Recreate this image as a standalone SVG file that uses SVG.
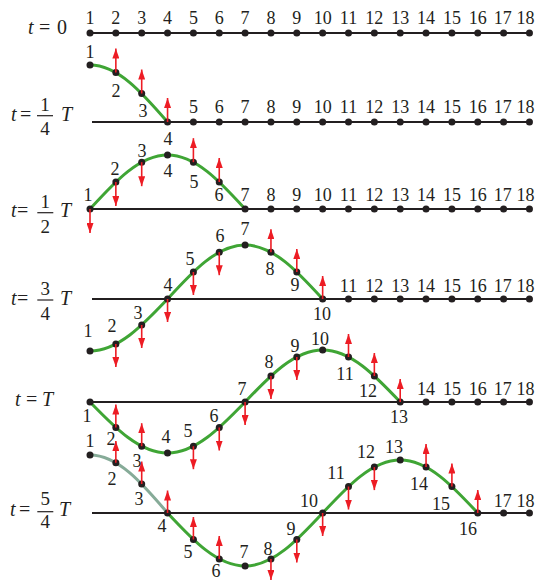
<svg xmlns="http://www.w3.org/2000/svg" width="536" height="581" viewBox="0 0 536 581" font-family="'Liberation Serif', serif">
<defs>
<style>
.axis{stroke:#231f20;stroke-width:1.8;fill:none}
.dot{fill:#231f20}
.wave{fill:none;stroke:#3fa535;stroke-width:3;stroke-linecap:round}
.wavef{fill:none;stroke:#86ab98;stroke-width:3;stroke-linecap:round}
.arr{stroke:#ed1c24;stroke-width:1.6;marker-end:url(#ah)}
.bar{stroke:#231f20;stroke-width:1.2}
text{font-family:'Liberation Serif',serif;fill:#231f20}
.n{font-size:18px;text-anchor:middle}
.lb{font-size:20px}
.fr{font-size:19px;text-anchor:middle}
.it{font-style:italic}
</style>
<marker id="ah" viewBox="0 0 10 7" refX="10" refY="3.5" markerWidth="10" markerHeight="7" orient="auto" markerUnits="userSpaceOnUse">
<path d="M0,0 L10,3.5 L0,7 z" fill="#ed1c24"/>
</marker>
</defs>

<!-- Row t = 0 -->
<g id="row-t0">
<text class="lb" x="28" y="34"><tspan class="it">t</tspan></text>
<text class="lb" x="39" y="34">=</text>
<text class="lb" x="57" y="34">0</text>
<line class="axis" x1="90" y1="33" x2="529.45" y2="33"/>
<g id="t0-nodes">
<circle class="dot" cx="90" cy="33" r="3.5"/><circle class="dot" cx="115.85" cy="33" r="3.5"/><circle class="dot" cx="141.7" cy="33" r="3.5"/><circle class="dot" cx="167.55" cy="33" r="3.5"/><circle class="dot" cx="193.4" cy="33" r="3.5"/><circle class="dot" cx="219.25" cy="33" r="3.5"/><circle class="dot" cx="245.1" cy="33" r="3.5"/><circle class="dot" cx="270.95" cy="33" r="3.5"/><circle class="dot" cx="296.8" cy="33" r="3.5"/><circle class="dot" cx="322.65" cy="33" r="3.5"/><circle class="dot" cx="348.5" cy="33" r="3.5"/><circle class="dot" cx="374.35" cy="33" r="3.5"/><circle class="dot" cx="400.2" cy="33" r="3.5"/><circle class="dot" cx="426.05" cy="33" r="3.5"/><circle class="dot" cx="451.9" cy="33" r="3.5"/><circle class="dot" cx="477.75" cy="33" r="3.5"/><circle class="dot" cx="503.6" cy="33" r="3.5"/><circle class="dot" cx="529.45" cy="33" r="3.5"/>
</g>
<g class="labels">
<text class="n" x="90" y="24">1</text><text class="n" x="115.85" y="24">2</text><text class="n" x="141.7" y="24">3</text><text class="n" x="167.55" y="24">4</text><text class="n" x="193.4" y="24">5</text><text class="n" x="219.25" y="24">6</text><text class="n" x="245.1" y="24">7</text><text class="n" x="270.95" y="24">8</text><text class="n" x="296.8" y="24">9</text><text class="n" x="322.65" y="24">10</text><text class="n" x="348.5" y="24">11</text><text class="n" x="374.35" y="24">12</text><text class="n" x="400.2" y="24">13</text><text class="n" x="426.05" y="24">14</text><text class="n" x="451.9" y="24">15</text><text class="n" x="477.75" y="24">16</text><text class="n" x="502.8" y="24">17</text><text class="n" x="525.5" y="24">18</text>
</g>
</g>

<!-- Row t = 1/4 T -->
<g id="row-t1">
<text class="lb" x="11" y="121"><tspan class="it">t</tspan></text>
<text class="lb" x="20" y="121">=</text>
<line class="bar" x1="37" y1="115.7" x2="53" y2="115.7"/>
<text class="fr" x="45" y="110.7">1</text>
<text class="fr" x="45" y="135">4</text>
<text class="lb it" x="61" y="121">T</text>
<line class="axis" x1="92" y1="122" x2="529.45" y2="122"/>
<path class="wave" d="M90,65 C118.07,65 142.26,92.8 167.55,122"/>
<g id="t1-nodes">
<circle class="dot" cx="90" cy="65" r="3.5"/><circle class="dot" cx="115.85" cy="72.6" r="3.5"/><circle class="dot" cx="141.7" cy="93.5" r="3.5"/><circle class="dot" cx="167.55" cy="122" r="3.5"/><circle class="dot" cx="193.4" cy="122" r="3.5"/><circle class="dot" cx="219.25" cy="122" r="3.5"/><circle class="dot" cx="245.1" cy="122" r="3.5"/><circle class="dot" cx="270.95" cy="122" r="3.5"/><circle class="dot" cx="296.8" cy="122" r="3.5"/><circle class="dot" cx="322.65" cy="122" r="3.5"/><circle class="dot" cx="348.5" cy="122" r="3.5"/><circle class="dot" cx="374.35" cy="122" r="3.5"/><circle class="dot" cx="400.2" cy="122" r="3.5"/><circle class="dot" cx="426.05" cy="122" r="3.5"/><circle class="dot" cx="451.9" cy="122" r="3.5"/><circle class="dot" cx="477.75" cy="122" r="3.5"/><circle class="dot" cx="503.6" cy="122" r="3.5"/><circle class="dot" cx="529.45" cy="122" r="3.5"/>
</g>
<g class="labels">
<text class="n" x="90" y="58">1</text><text class="n" x="116" y="97">2</text><text class="n" x="143" y="117">3</text><text class="n" x="168" y="145">4</text><text class="n" x="193.4" y="113">5</text><text class="n" x="219.25" y="113">6</text><text class="n" x="245.1" y="113">7</text><text class="n" x="270.95" y="113">8</text><text class="n" x="296.8" y="113">9</text><text class="n" x="322.65" y="113">10</text><text class="n" x="348.5" y="113">11</text><text class="n" x="374.35" y="113">12</text><text class="n" x="400.2" y="113">13</text><text class="n" x="426.05" y="113">14</text><text class="n" x="451.9" y="113">15</text><text class="n" x="477.75" y="113">16</text><text class="n" x="502.8" y="113">17</text><text class="n" x="525.5" y="113">18</text>
</g>
</g>

<!-- Row t = 1/2 T -->
<g id="row-t2">
<text class="lb" x="11" y="217"><tspan class="it">t</tspan></text>
<text class="lb" x="17" y="217">=</text>
<line class="bar" x1="37.3" y1="212.7" x2="53.3" y2="212.7"/>
<text class="fr" x="45.3" y="208.3">1</text>
<text class="fr" x="45.3" y="232.7">2</text>
<text class="lb it" x="60" y="217">T</text>
<line class="axis" x1="90" y1="209" x2="529.45" y2="209"/>
<path class="wave" d="M90,209 C115.29,181.34 139.48,155 167.55,155 C195.62,155 219.81,181.34 245.1,209"/>
<g id="t2-nodes">
<circle class="dot" cx="90" cy="209" r="3.5"/><circle class="dot" cx="115.85" cy="182" r="3.5"/><circle class="dot" cx="141.7" cy="162.2" r="3.5"/><circle class="dot" cx="167.55" cy="155" r="3.5"/><circle class="dot" cx="193.4" cy="162.2" r="3.5"/><circle class="dot" cx="219.25" cy="182" r="3.5"/><circle class="dot" cx="245.1" cy="209" r="3.5"/><circle class="dot" cx="270.95" cy="209" r="3.5"/><circle class="dot" cx="296.8" cy="209" r="3.5"/><circle class="dot" cx="322.65" cy="209" r="3.5"/><circle class="dot" cx="348.5" cy="209" r="3.5"/><circle class="dot" cx="374.35" cy="209" r="3.5"/><circle class="dot" cx="400.2" cy="209" r="3.5"/><circle class="dot" cx="426.05" cy="209" r="3.5"/><circle class="dot" cx="451.9" cy="209" r="3.5"/><circle class="dot" cx="477.75" cy="209" r="3.5"/><circle class="dot" cx="503.6" cy="209" r="3.5"/><circle class="dot" cx="529.45" cy="209" r="3.5"/>
</g>
<g class="labels">
<text class="n" x="88" y="201">1</text><text class="n" x="115" y="175">2</text><text class="n" x="142" y="157">3</text><text class="n" x="168" y="177">4</text><text class="n" x="194" y="188">5</text><text class="n" x="219" y="201">6</text><text class="n" x="245.1" y="201">7</text><text class="n" x="270.95" y="201">8</text><text class="n" x="296.8" y="201">9</text><text class="n" x="322.65" y="201">10</text><text class="n" x="348.5" y="201">11</text><text class="n" x="374.35" y="201">12</text><text class="n" x="400.2" y="201">13</text><text class="n" x="426.05" y="201">14</text><text class="n" x="451.9" y="201">15</text><text class="n" x="477.75" y="201">16</text><text class="n" x="502.8" y="201">17</text><text class="n" x="525.5" y="201">18</text>
</g>
</g>

<!-- Row t = 3/4 T -->
<g id="row-t3">
<text class="lb" x="11" y="305"><tspan class="it">t</tspan></text>
<text class="lb" x="17" y="305">=</text>
<line class="bar" x1="37.3" y1="300" x2="53.3" y2="300"/>
<text class="fr" x="45.3" y="295">3</text>
<text class="fr" x="45.3" y="319.5">4</text>
<text class="lb it" x="60" y="305">T</text>
<line class="axis" x1="92" y1="299" x2="529.45" y2="299"/>
<path class="wave" d="M90,351 C118.07,351 142.26,325.64 167.55,299 C192.84,271.34 217.03,245 245.1,245 C273.17,245 297.36,271.34 322.65,299"/>
<g id="t3-nodes">
<circle class="dot" cx="90" cy="351" r="3.5"/><circle class="dot" cx="115.85" cy="344" r="3.5"/><circle class="dot" cx="141.7" cy="325" r="3.5"/><circle class="dot" cx="167.55" cy="299" r="3.5"/><circle class="dot" cx="193.4" cy="272" r="3.5"/><circle class="dot" cx="219.25" cy="252.2" r="3.5"/><circle class="dot" cx="245.1" cy="245" r="3.5"/><circle class="dot" cx="270.95" cy="252.2" r="3.5"/><circle class="dot" cx="296.8" cy="272" r="3.5"/><circle class="dot" cx="322.65" cy="299" r="3.5"/><circle class="dot" cx="348.5" cy="299" r="3.5"/><circle class="dot" cx="374.35" cy="299" r="3.5"/><circle class="dot" cx="400.2" cy="299" r="3.5"/><circle class="dot" cx="426.05" cy="299" r="3.5"/><circle class="dot" cx="451.9" cy="299" r="3.5"/><circle class="dot" cx="477.75" cy="299" r="3.5"/><circle class="dot" cx="503.6" cy="299" r="3.5"/><circle class="dot" cx="529.45" cy="299" r="3.5"/>
</g>
<g class="labels">
<text class="n" x="88" y="337">1</text><text class="n" x="112" y="332">2</text><text class="n" x="138" y="319">3</text><text class="n" x="168" y="291">4</text><text class="n" x="190" y="265">5</text><text class="n" x="220" y="242">6</text><text class="n" x="245" y="235">7</text><text class="n" x="270" y="275">8</text><text class="n" x="295" y="291">9</text><text class="n" x="322" y="320">10</text><text class="n" x="348.5" y="292">11</text><text class="n" x="374.35" y="292">12</text><text class="n" x="400.2" y="292">13</text><text class="n" x="426.05" y="292">14</text><text class="n" x="451.9" y="292">15</text><text class="n" x="477.75" y="292">16</text><text class="n" x="502.8" y="292">17</text><text class="n" x="525.5" y="292">18</text>
</g>
</g>

<!-- Row t = T -->
<g id="row-t4">
<text class="lb" x="15" y="406"><tspan class="it">t</tspan></text>
<text class="lb" x="26" y="406">=</text>
<text class="lb it" x="42" y="406">T</text>
<line class="axis" x1="90" y1="402" x2="529.45" y2="402"/>
<path class="wave" d="M90,402 C115.29,428.13 139.48,453 167.55,453 C195.62,453 219.81,428.13 245.1,402 C270.39,375.36 294.58,350 322.65,350 C350.72,350 374.91,375.36 400.2,402"/>
<g id="t4-nodes">
<circle class="dot" cx="90" cy="402" r="3.5"/><circle class="dot" cx="115.85" cy="427.5" r="3.5"/><circle class="dot" cx="141.7" cy="446.2" r="3.5"/><circle class="dot" cx="167.55" cy="453" r="3.5"/><circle class="dot" cx="193.4" cy="446.2" r="3.5"/><circle class="dot" cx="219.25" cy="427.5" r="3.5"/><circle class="dot" cx="245.1" cy="402" r="3.5"/><circle class="dot" cx="270.95" cy="376" r="3.5"/><circle class="dot" cx="296.8" cy="357" r="3.5"/><circle class="dot" cx="322.65" cy="350" r="3.5"/><circle class="dot" cx="348.5" cy="357" r="3.5"/><circle class="dot" cx="374.35" cy="376" r="3.5"/><circle class="dot" cx="400.2" cy="402" r="3.5"/><circle class="dot" cx="426.05" cy="402" r="3.5"/><circle class="dot" cx="451.9" cy="402" r="3.5"/><circle class="dot" cx="477.75" cy="402" r="3.5"/><circle class="dot" cx="503.6" cy="402" r="3.5"/><circle class="dot" cx="529.45" cy="402" r="3.5"/>
</g>
<g class="labels">
<text class="n" x="87" y="422">1</text><text class="n" x="111" y="445">2</text><text class="n" x="137" y="467">3</text><text class="n" x="166" y="443">4</text><text class="n" x="188" y="437">5</text><text class="n" x="214" y="422">6</text><text class="n" x="242" y="395">7</text><text class="n" x="269" y="368">8</text><text class="n" x="295" y="352">9</text><text class="n" x="320" y="345">10</text><text class="n" x="345" y="380">11</text><text class="n" x="368" y="397">12</text><text class="n" x="399" y="423">13</text><text class="n" x="426.05" y="395">14</text><text class="n" x="451.9" y="395">15</text><text class="n" x="477.75" y="395">16</text><text class="n" x="502.8" y="395">17</text><text class="n" x="525.5" y="395">18</text>
</g>
</g>

<!-- Row t = 5/4 T -->
<g id="row-t5">
<text class="lb" x="10" y="516"><tspan class="it">t</tspan></text>
<text class="lb" x="19" y="516">=</text>
<line class="bar" x1="37.3" y1="511.7" x2="53.3" y2="511.7"/>
<text class="fr" x="45.3" y="505">5</text>
<text class="fr" x="45.3" y="528.3">4</text>
<text class="lb it" x="59" y="516">T</text>
<line class="axis" x1="92" y1="513" x2="529.45" y2="513"/>
<path class="wavef" d="M90,455 C118.07,455 142.26,483.3 167.55,513"/>
<path class="wave" d="M167.55,513 C192.84,540.15 217.03,566 245.1,566 C273.17,566 297.36,540.15 322.65,513 C347.94,485.85 372.13,460 400.2,460 C428.27,460 452.46,485.85 477.75,513"/>
<g id="t5-nodes">
<circle class="dot" cx="90" cy="455" r="3.5"/><circle class="dot" cx="115.85" cy="462.8" r="3.5"/><circle class="dot" cx="141.7" cy="484" r="3.5"/><circle class="dot" cx="167.55" cy="513" r="3.5"/><circle class="dot" cx="193.4" cy="539.5" r="3.5"/><circle class="dot" cx="219.25" cy="558.9" r="3.5"/><circle class="dot" cx="245.1" cy="566" r="3.5"/><circle class="dot" cx="270.95" cy="558.9" r="3.5"/><circle class="dot" cx="296.8" cy="539.5" r="3.5"/><circle class="dot" cx="322.65" cy="513" r="3.5"/><circle class="dot" cx="348.5" cy="486.5" r="3.5"/><circle class="dot" cx="374.35" cy="467.1" r="3.5"/><circle class="dot" cx="400.2" cy="460" r="3.5"/><circle class="dot" cx="426.05" cy="467.1" r="3.5"/><circle class="dot" cx="451.9" cy="486.5" r="3.5"/><circle class="dot" cx="477.75" cy="513" r="3.5"/><circle class="dot" cx="503.6" cy="513" r="3.5"/><circle class="dot" cx="529.45" cy="513" r="3.5"/>
</g>
<g class="labels">
<text class="n" x="90" y="447">1</text><text class="n" x="112" y="485">2</text><text class="n" x="139" y="505">3</text><text class="n" x="162" y="532">4</text><text class="n" x="188" y="558">5</text><text class="n" x="216" y="577">6</text><text class="n" x="244" y="558">7</text><text class="n" x="268" y="555">8</text><text class="n" x="291" y="535">9</text><text class="n" x="309" y="507">10</text><text class="n" x="336" y="479">11</text><text class="n" x="366" y="458">12</text><text class="n" x="394" y="453">13</text><text class="n" x="419" y="490">14</text><text class="n" x="441" y="510">15</text><text class="n" x="468" y="535">16</text><text class="n" x="502.8" y="507">17</text><text class="n" x="525.5" y="507">18</text>
</g>
</g>

<!-- Velocity arrows -->
<g id="connectors">
<line class="arr" x1="115.85" y1="72.6" x2="115.85" y2="48.6"/>
<line class="arr" x1="141.7" y1="93.5" x2="141.7" y2="69.5"/>
<line class="arr" x1="167.55" y1="122" x2="167.55" y2="98"/>

<line class="arr" x1="90" y1="209" x2="90" y2="233"/>
<line class="arr" x1="115.85" y1="182" x2="115.85" y2="206"/>
<line class="arr" x1="141.7" y1="162.2" x2="141.7" y2="186.2"/>
<line class="arr" x1="193.4" y1="162.2" x2="193.4" y2="138.2"/>
<line class="arr" x1="219.25" y1="182" x2="219.25" y2="158"/>

<line class="arr" x1="115.85" y1="344" x2="115.85" y2="367"/>
<line class="arr" x1="141.7" y1="325" x2="141.7" y2="348"/>
<line class="arr" x1="167.55" y1="299" x2="167.55" y2="322"/>
<line class="arr" x1="193.4" y1="272" x2="193.4" y2="295"/>
<line class="arr" x1="219.25" y1="252.2" x2="219.25" y2="275.2"/>
<line class="arr" x1="270.95" y1="252.2" x2="270.95" y2="229.2"/>
<line class="arr" x1="296.8" y1="272" x2="296.8" y2="249"/>
<line class="arr" x1="322.65" y1="299" x2="322.65" y2="276"/>

<line class="arr" x1="115.85" y1="427.5" x2="115.85" y2="404.5"/>
<line class="arr" x1="141.7" y1="446.2" x2="141.7" y2="423.2"/>
<line class="arr" x1="193.4" y1="446.2" x2="193.4" y2="469.2"/>
<line class="arr" x1="219.25" y1="427.5" x2="219.25" y2="450.5"/>
<line class="arr" x1="245.1" y1="402" x2="245.1" y2="425"/>
<line class="arr" x1="270.95" y1="376" x2="270.95" y2="399"/>
<line class="arr" x1="296.8" y1="357" x2="296.8" y2="380"/>
<line class="arr" x1="348.5" y1="357" x2="348.5" y2="334"/>
<line class="arr" x1="374.35" y1="376" x2="374.35" y2="353"/>
<line class="arr" x1="400.2" y1="402" x2="400.2" y2="379"/>

<line class="arr" x1="115.85" y1="462.8" x2="115.85" y2="441"/>
<line class="arr" x1="141.7" y1="484" x2="141.7" y2="461.5"/>
<line class="arr" x1="167.55" y1="513" x2="167.55" y2="490.5"/>
<line class="arr" x1="193.4" y1="539.5" x2="193.4" y2="517"/>
<line class="arr" x1="219.25" y1="558.9" x2="219.25" y2="536"/>
<line class="arr" x1="270.95" y1="558.9" x2="270.95" y2="580"/>
<line class="arr" x1="296.8" y1="539.5" x2="296.8" y2="562.5"/>
<line class="arr" x1="322.65" y1="513" x2="322.65" y2="536"/>
<line class="arr" x1="348.5" y1="486.5" x2="348.5" y2="509.5"/>
<line class="arr" x1="374.35" y1="467.1" x2="374.35" y2="490.1"/>
<line class="arr" x1="426.05" y1="467.1" x2="426.05" y2="444.1"/>
<line class="arr" x1="451.9" y1="486.5" x2="451.9" y2="463.5"/>
<line class="arr" x1="477.75" y1="513" x2="477.75" y2="490"/>
</g>
</svg>
